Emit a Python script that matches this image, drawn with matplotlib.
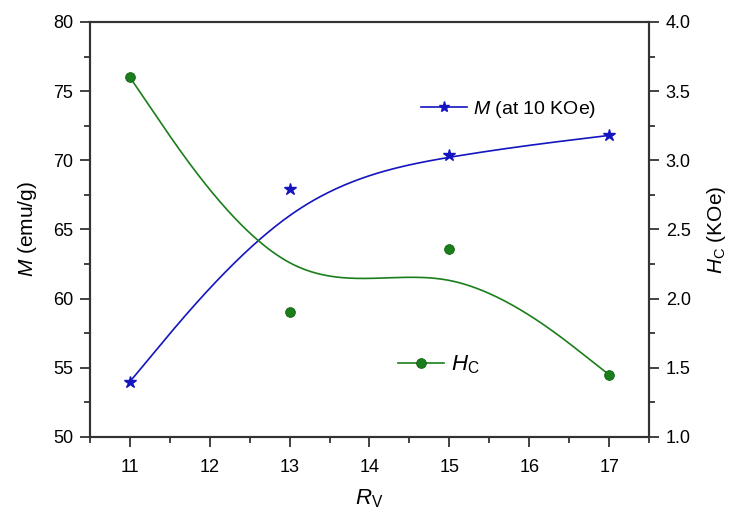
import numpy as np
import matplotlib
matplotlib.use("Agg")
import matplotlib.pyplot as plt
from matplotlib.lines import Line2D
from matplotlib.ticker import MultipleLocator

plt.rcParams['font.family'] = ['Liberation Sans', 'DejaVu Sans']
plt.rcParams['mathtext.fontset'] = 'custom'
plt.rcParams['mathtext.rm'] = 'Liberation Sans'
plt.rcParams['mathtext.it'] = 'Liberation Sans:italic'
plt.rcParams['mathtext.bf'] = 'Liberation Sans:bold'

# Data
rv = [11, 13, 15, 17]
magnetization = [54.0, 67.9, 70.4, 71.8]
coercivity = [3.60, 1.90, 2.36, 1.45]

BLUE = '#1414c0'
GREEN = '#1a7f1a'
SPINE = '#333333'


def bspline(ctrl_x, ctrl_y, per_seg=80):
    """Uniform cubic B-spline with end points tripled (passes through ends)."""
    pts = np.column_stack([ctrl_x, ctrl_y]).astype(float)
    pad = np.vstack([pts[:1], pts[:1], pts, pts[-1:], pts[-1:]])
    u = np.linspace(0, 1, per_seg)
    b0 = (1 - u) ** 3 / 6
    b1 = (3 * u ** 3 - 6 * u ** 2 + 4) / 6
    b2 = (-3 * u ** 3 + 3 * u ** 2 + 3 * u + 1) / 6
    b3 = u ** 3 / 6
    segs = []
    for i in range(len(pad) - 3):
        q = pad[i:i + 4]
        seg = (np.outer(b0, q[0]) + np.outer(b1, q[1]) +
               np.outer(b2, q[2]) + np.outer(b3, q[3]))
        segs.append(seg)
    out = np.vstack(segs)
    return out[:, 0], out[:, 1]


fig = plt.figure(figsize=(7.34, 5.15), dpi=100)
ax = fig.add_axes([0.1226, 0.1515, 0.7616, 0.8058])
ax2 = ax.twinx()

mx, my = bspline(rv, magnetization)
hx, hy = bspline(rv, coercivity)

ax.plot(mx, my, color=BLUE, lw=1.2, zorder=3)
ax.plot(rv, magnetization, ls='none', marker='*', ms=9, color=BLUE, zorder=4)

ax2.plot(hx, hy, color=GREEN, lw=1.2, zorder=3)
ax2.plot(rv, coercivity, ls='none', marker='o', ms=7, color=GREEN,
         markeredgecolor='#106010', markeredgewidth=0.6, zorder=4)

ax.set_xlim(10.5, 17.5)
ax.set_ylim(50, 80)
ax2.set_ylim(1.0, 4.0)

ax.xaxis.set_major_locator(MultipleLocator(1))
ax.xaxis.set_minor_locator(MultipleLocator(0.5))
ax.yaxis.set_major_locator(MultipleLocator(5))
ax.yaxis.set_minor_locator(MultipleLocator(2.5))
ax2.yaxis.set_major_locator(MultipleLocator(0.5))
ax2.yaxis.set_minor_locator(MultipleLocator(0.25))
ax2.yaxis.set_major_formatter(matplotlib.ticker.FormatStrFormatter('%.1f'))

for a in (ax, ax2):
    for sp in a.spines.values():
        sp.set_linewidth(1.5)
        sp.set_color(SPINE)
    a.tick_params(which='major', direction='out', length=7, width=1.3,
                  color=SPINE, labelsize=13, pad=5)
    a.tick_params(which='minor', direction='out', length=4, width=1.3, color=SPINE)

ax.tick_params(axis='x', which='both', top=False)
ax.tick_params(axis='x', which='major', pad=9)
ax.tick_params(axis='y', which='both', right=False)
ax2.tick_params(axis='y', which='both', left=False)

ax.set_xlabel(r'$\mathit{R}_\mathrm{V}$', fontsize=16, labelpad=8)
ax.set_ylabel(r'$\mathit{M}$ (emu/g)', fontsize=15, labelpad=10)
ax2.set_ylabel(r'$\mathit{H}_\mathrm{C}$ (KOe)', fontsize=15, labelpad=10,
               rotation=90)

h1 = Line2D([], [], color=BLUE, lw=1.2, marker='*', ms=8)
h2 = Line2D([], [], color=GREEN, lw=1.2, marker='o', ms=7,
            markeredgecolor='#106010', markeredgewidth=0.6)
leg1 = ax2.legend([h1], [r'$\mathit{M}$ (at 10 KOe)'], loc='center left',
                  bbox_to_anchor=(0.5736, 0.788), bbox_transform=fig.transFigure,
                  frameon=False, fontsize=14, handlelength=2.37, handletextpad=0.3,
                  borderaxespad=0, borderpad=0)
ax2.add_artist(leg1)
ax2.legend([h2], [r'$\mathit{H}_\mathrm{C}$'], loc='center left',
           bbox_to_anchor=(0.542, 0.291), bbox_transform=fig.transFigure,
           frameon=False, fontsize=16, handlelength=2.1, handletextpad=0.3,
           borderaxespad=0, borderpad=0)

fig.savefig('out.png', dpi=100)
